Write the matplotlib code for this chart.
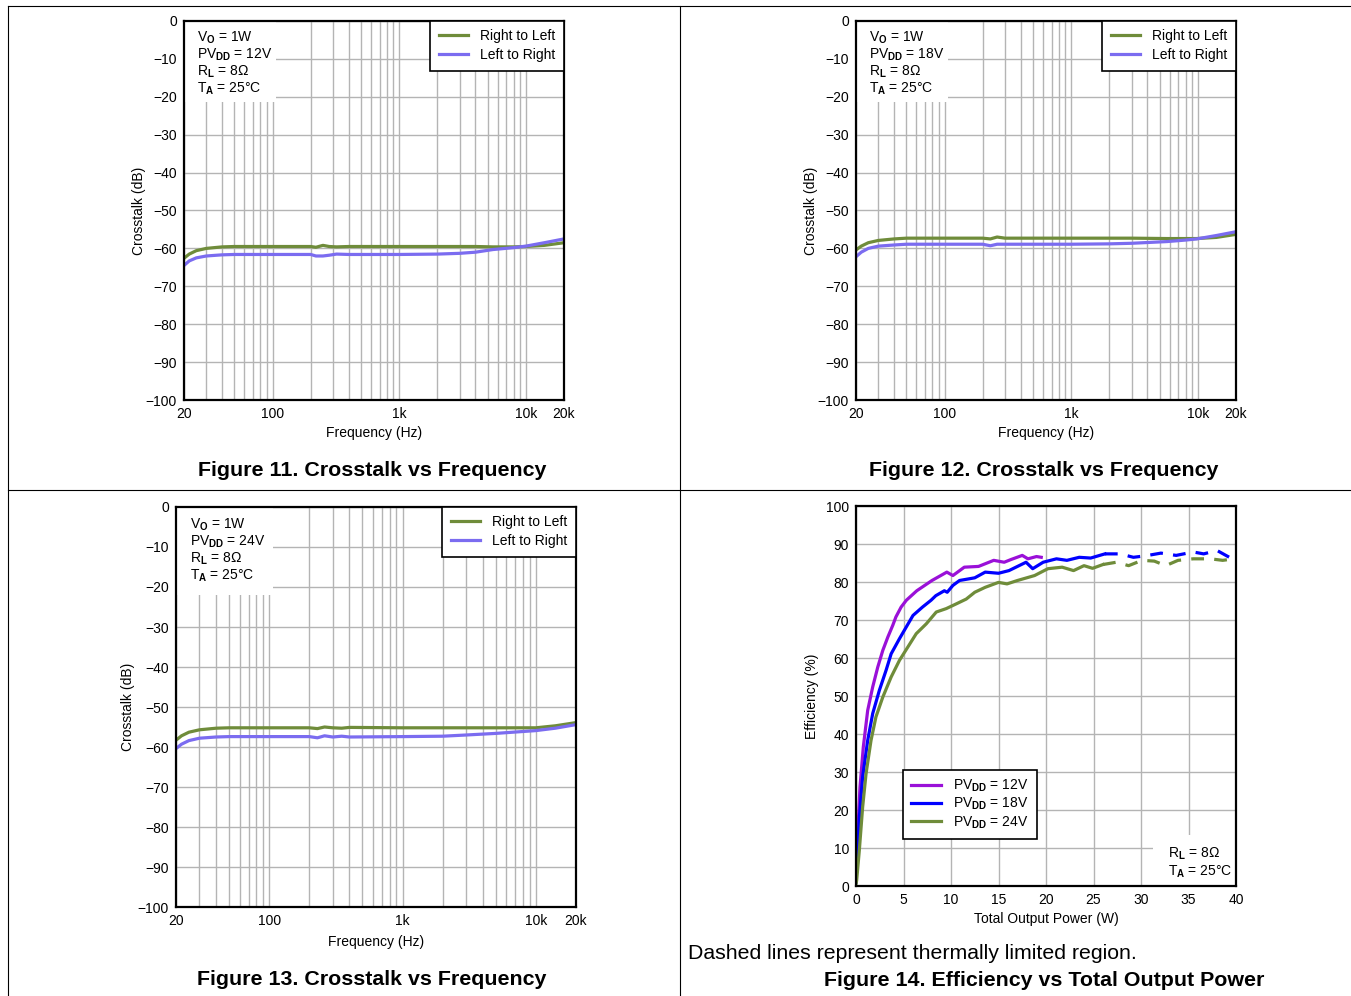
import matplotlib
matplotlib.use("Agg")
import matplotlib.pyplot as plt
from matplotlib.lines import Line2D
from matplotlib.patches import Rectangle

plt.rcParams.update({
    "font.family": ["Liberation Sans", "DejaVu Sans"],
    "font.size": 10,
    "mathtext.fontset": "custom",
    "mathtext.rm": "Liberation Sans",
    "mathtext.bf": "Liberation Sans:bold",
    "mathtext.it": "Liberation Sans:italic",
})

GREEN = "#6f8c3a"
LAVENDER = "#7b6cf0"
VIOLET = "#9a10d8"
BLUE = "#0000ff"

# ---- crosstalk data (Figures 11-13) ----
fig11_freq = [20, 22, 25, 30, 40, 50, 100, 200, 220, 250, 280, 320, 400, 1000, 2000, 3000,
              4000, 5500, 8000, 10000, 14000, 20000]
fig11_r2l = [-62.6, -61.5, -60.6, -60.0, -59.6, -59.5, -59.5, -59.5, -59.7, -59.2, -59.5, -59.6,
             -59.5, -59.5, -59.5, -59.5, -59.5, -59.6, -59.6, -59.5, -59.2, -58.5]
fig11_l2r = [-64.5, -63.3, -62.5, -62.0, -61.7, -61.6, -61.6, -61.6, -62.0, -62.0, -61.8, -61.5,
             -61.6, -61.6, -61.5, -61.3, -61.0, -60.3, -59.8, -59.4, -58.5, -57.5]

fig12_freq = [20, 22, 25, 30, 40, 50, 100, 200, 230, 260, 300, 400, 1000, 2000, 3000, 5700,
              8000, 9800, 14000, 20000]
fig12_r2l = [-60.4, -59.4, -58.5, -57.9, -57.5, -57.3, -57.3, -57.3, -57.5, -57.0, -57.3, -57.3,
             -57.3, -57.3, -57.3, -57.4, -57.4, -57.4, -57.1, -56.3]
fig12_l2r = [-62.2, -61.0, -60.0, -59.4, -59.1, -58.9, -58.9, -58.9, -59.3, -58.9, -58.9, -58.9,
             -58.9, -58.8, -58.65, -58.2, -57.8, -57.5, -56.6, -55.6]

fig13_freq = [20, 22, 25, 30, 40, 50, 100, 200, 230, 260, 300, 350, 400, 1000, 2000, 3000,
              5000, 10000, 14000, 20000]
fig13_r2l = [-58.3, -57.2, -56.3, -55.7, -55.3, -55.2, -55.2, -55.2, -55.4, -55.0, -55.2, -55.3,
             -55.1, -55.2, -55.2, -55.2, -55.2, -55.2, -54.7, -53.9]
fig13_l2r = [-60.4, -59.3, -58.4, -57.8, -57.5, -57.4, -57.4, -57.4, -57.7, -57.2, -57.5, -57.3,
             -57.5, -57.4, -57.3, -57.0, -56.6, -55.9, -55.3, -54.4]

# ---- efficiency data (Figure 14) ----
eff12_p = [0.0, 0.18, 0.42, 0.77, 1.23, 1.76, 2.29, 2.82, 3.35, 3.87, 4.2, 4.75, 5.3, 6.4, 8.0,
           9.56, 10.2, 11.4, 12.9, 14.5, 15.6, 16.3, 17.5, 18.1, 19.0, 19.5]
eff12_e = [2.0, 13.8, 26.0, 36.6, 46.2, 52.4, 57.6, 62.0, 65.5, 68.6, 70.8, 73.4, 75.2, 77.7, 80.4,
           82.6, 81.7, 83.9, 84.1, 85.7, 85.2, 85.9, 87.0, 86.1, 86.7, 86.5]

eff18_p = [0.0, 0.07, 0.35, 0.7, 1.23, 1.76, 2.46, 3.17, 3.7, 4.58, 5.3, 6.0, 7.0, 7.9, 8.4, 9.3,
           9.6, 10.2, 10.9, 12.5, 13.6, 15.0, 16.1, 17.9, 18.6, 19.7, 21.1, 22.2, 23.5, 24.7, 26.2]
eff18_e = [1.0, 5.0, 18.0, 28.7, 38.3, 45.4, 51.5, 56.8, 61.1, 65.1, 68.2, 71.2, 73.4, 75.2, 76.4,
           77.7, 77.3, 79.1, 80.4, 81.1, 82.6, 82.3, 83.0, 85.2, 83.5, 85.2, 86.1, 85.7, 86.5, 86.3,
           87.4]
eff18_dash_p = [26.2, 27.8, 29.2, 30.5, 32.1, 33.7, 35.5, 36.6, 38.0, 39.3, 40.0]
eff18_dash_e = [87.4, 87.4, 86.5, 86.9, 87.6, 87.0, 87.9, 87.4, 88.3, 86.5, 86.3]

eff24_p = [0.0, 0.07, 0.35, 0.7, 1.06, 1.58, 2.1, 2.82, 3.7, 4.58, 5.46, 6.34, 7.4, 8.45, 9.5,
           10.6, 11.6, 12.5, 13.6, 15.0, 15.9, 17.0, 18.8, 20.2, 21.7, 22.9, 24.0, 24.9, 26.0]
eff24_e = [0.5, 1.5, 9.4, 20.8, 29.6, 38.3, 44.5, 49.7, 55.0, 59.4, 62.9, 66.4, 69.0, 72.1, 73.0,
           74.3, 75.5, 77.3, 78.6, 79.9, 79.5, 80.4, 81.7, 83.5, 83.9, 83.0, 84.3, 83.6, 84.6]
eff24_dash_p = [26.0, 27.4, 28.7, 30.1, 31.4, 32.6, 33.9, 35.5, 37.3, 38.6, 39.8]
eff24_dash_e = [84.6, 85.2, 84.3, 85.7, 85.5, 84.3, 85.7, 86.1, 86.1, 85.7, 86.1]

W, H = 1351, 996
fig = plt.figure(figsize=(W / 100, H / 100), dpi=100)


def px_rect(left, top, right, bottom):
    return [left / W, 1 - bottom / H, (right - left) / W, (bottom - top) / H]


def style_axes(ax):
    ax.set_axisbelow(True)
    for sp in ax.spines.values():
        sp.set_linewidth(1.6)
        sp.set_color("black")
        sp.set_zorder(5)
    ax.tick_params(which="both", length=0, labelsize=10, pad=5)


def make_legend(ax, spacing=0.35, **kw):
    leg = ax.legend(borderaxespad=0, fancybox=False, framealpha=1, edgecolor="black",
                    fontsize=10, handlelength=2.1, handletextpad=0.9, borderpad=0.6,
                    labelspacing=spacing, **kw)
    leg.get_frame().set_linewidth(1.2)
    leg.set_zorder(6)
    return leg


def crosstalk(rect, freq, r2l, l2r, labels, box_w, box_h, label_pads):
    ax = fig.add_axes(rect)
    style_axes(ax)
    ax.set_xscale("log")
    ax.set_xlim(20, 20000)
    ax.set_ylim(-100, 0)
    ax.set_yticks(range(-100, 1, 10))
    ax.set_xticks([20, 100, 1000, 10000, 20000])
    ax.set_xticklabels(["20", "100", "1k", "10k", "20k"])
    minors = [m * d for d in (10, 100, 1000) for m in range(2, 10) if 20 < m * d < 20000]
    ax.set_xticks(minors, minor=True)
    ax.xaxis.set_minor_formatter(plt.NullFormatter())
    ax.grid(True, which="both", color="#b4b4b4", linewidth=1.0)
    ax.add_patch(Rectangle((0, 1 - box_h), box_w, box_h, transform=ax.transAxes,
                           facecolor="white", edgecolor="none", zorder=1))
    ax.plot(freq, r2l, color=GREEN, lw=2.3, label="Right to Left", zorder=3)
    ax.plot(freq, l2r, color=LAVENDER, lw=2.3, label="Left to Right", zorder=3)
    ax.text(0.034, 0.977, "\n".join(labels), transform=ax.transAxes, va="top", ha="left",
            fontsize=10, linespacing=1.05, zorder=4)
    make_legend(ax, loc="upper right")
    ax.set_xlabel("Frequency (Hz)", labelpad=label_pads[0])
    ax.set_ylabel("Crosstalk (dB)", labelpad=label_pads[1])
    return ax


crosstalk(px_rect(184, 21, 564, 400), fig11_freq, fig11_r2l, fig11_l2r,
          [r"V$_\mathbf{O}$ = 1W", r"PV$_\mathbf{DD}$ = 12V", r"R$_\mathbf{L}$ = 8Ω",
           r"T$_\mathbf{A}$ = 25°C"], 0.242, 0.215, (4, 0))
crosstalk(px_rect(856, 21, 1236, 400), fig12_freq, fig12_r2l, fig12_l2r,
          [r"V$_\mathbf{O}$ = 1W", r"PV$_\mathbf{DD}$ = 18V", r"R$_\mathbf{L}$ = 8Ω",
           r"T$_\mathbf{A}$ = 25°C"], 0.242, 0.215, (4, 0))
crosstalk(px_rect(176, 507, 576, 907), fig13_freq, fig13_r2l, fig13_l2r,
          [r"V$_\mathbf{O}$ = 1W", r"PV$_\mathbf{DD}$ = 24V", r"R$_\mathbf{L}$ = 8Ω",
           r"T$_\mathbf{A}$ = 25°C"], 0.243, 0.22, (5, 2))

# ---- Figure 14 ----
ax = fig.add_axes(px_rect(856, 506, 1236, 886))
style_axes(ax)
ax.set_xlim(0, 40)
ax.set_ylim(0, 100)
ax.set_xticks(range(0, 41, 5))
ax.set_yticks(range(0, 101, 10))
ax.grid(True, color="#b4b4b4", linewidth=1.0)
ax.add_patch(Rectangle((0.782, 0), 0.218, 0.134, transform=ax.transAxes,
                       facecolor="white", edgecolor="none", zorder=1))
ax.plot(eff12_p, eff12_e, color=VIOLET, lw=2.3, label=r"PV$_\mathbf{DD}$ = 12V", zorder=3)
ax.plot(eff18_p, eff18_e, color=BLUE, lw=2.3, label=r"PV$_\mathbf{DD}$ = 18V", zorder=3)
ax.plot(eff24_p, eff24_e, color=GREEN, lw=2.3, label=r"PV$_\mathbf{DD}$ = 24V", zorder=3)
ax.plot(eff18_dash_p, eff18_dash_e, color=BLUE, lw=2.3, ls=(0, (4, 3.2)), zorder=3, clip_on=False)
ax.plot(eff24_dash_p, eff24_dash_e, color=GREEN, lw=2.3, ls=(0, (4, 3.2)), zorder=3, clip_on=False)
make_legend(ax, spacing=0.12, loc="lower left", bbox_to_anchor=(0.124, 0.124))
ax.text(0.82, 0.016, "R$_\\mathbf{L}$ = 8Ω\nT$_\\mathbf{A}$ = 25°C", transform=ax.transAxes,
        va="bottom", ha="left", fontsize=10, linespacing=1.15, zorder=4)
ax.set_xlabel("Total Output Power (W)", labelpad=4)
ax.set_ylabel("Efficiency (%)", labelpad=5)

# ---- captions ----
CAP = 15.4
fig.text(372 / W, 1 - 471 / H, "Figure 11. Crosstalk vs Frequency", ha="center", va="center",
         fontsize=CAP, fontweight="bold")
fig.text(1044 / W, 1 - 471 / H, "Figure 12. Crosstalk vs Frequency", ha="center", va="center",
         fontsize=CAP, fontweight="bold")
fig.text(372 / W, 1 - 979 / H, "Figure 13. Crosstalk vs Frequency", ha="center", va="center",
         fontsize=CAP, fontweight="bold")
fig.text(1044 / W, 1 - 980 / H, "Figure 14. Efficiency vs Total Output Power", ha="center",
         va="center", fontsize=CAP, fontweight="bold")
fig.text(688 / W, 1 - 953 / H, "Dashed lines represent thermally limited region.", ha="left",
         va="center", fontsize=15.3)

# ---- cell borders ----
for (x0, y0, x1, y1) in [(8, 6, W, 6), (8, 6, 8, H), (680, 6, 680, H), (8, 490, W, 490)]:
    fig.add_artist(Line2D([x0 / W, x1 / W], [1 - y0 / H, 1 - y1 / H], color="black", lw=0.8))

fig.savefig("out.png", dpi=100)
